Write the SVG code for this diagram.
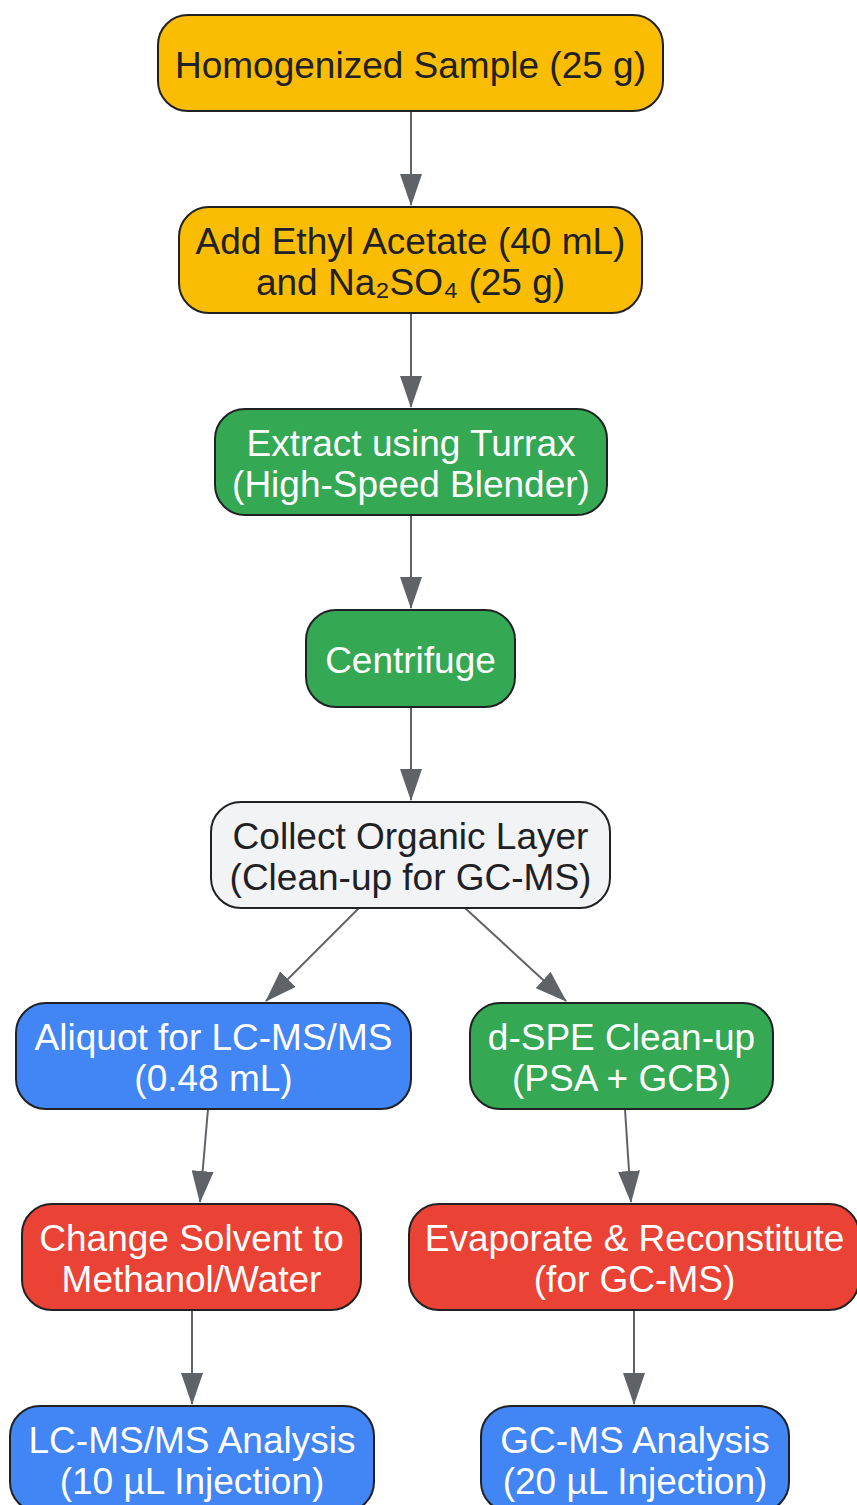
<svg xmlns="http://www.w3.org/2000/svg" width="857" height="1505" viewBox="0 0 857 1505">
<defs>
<style>
.node rect{stroke:#202124;stroke-width:2}
.yellow rect{fill:#FBBC04}
.green rect{fill:#34A853}
.blue rect{fill:#4285F4}
.red rect{fill:#EA4335}
.gray rect{fill:#F1F3F4}
text{font-family:"Liberation Sans",Arial,sans-serif;font-size:37px;text-anchor:middle}
.dark text{fill:#202124}
.light text{fill:#FFFFFF}
.edge{stroke:#5F6368;stroke-width:2;fill:none;marker-end:url(#arr)}
</style>
<marker id="arr" markerUnits="userSpaceOnUse" markerWidth="32" markerHeight="22" refX="31" refY="11" orient="auto">
<path d="M0,0 L32,11 L0,22 z" fill="#5F6368"/>
</marker>
</defs>
<rect width="857" height="1505" fill="#FFFFFF"/>
<g id="connectors">
<line class="edge" x1="411" y1="111" x2="411" y2="205"/>
<line class="edge" x1="411" y1="313" x2="411" y2="407"/>
<line class="edge" x1="411" y1="515" x2="411" y2="608"/>
<line class="edge" x1="411" y1="707" x2="411" y2="800"/>
<line class="edge" x1="359" y1="908" x2="266" y2="1001"/>
<line class="edge" x1="465" y1="908" x2="566" y2="1001"/>
<line class="edge" x1="208" y1="1109" x2="200" y2="1202"/>
<line class="edge" x1="625" y1="1109" x2="631" y2="1202"/>
<line class="edge" x1="192" y1="1310" x2="192" y2="1404"/>
<line class="edge" x1="634" y1="1310" x2="634" y2="1404"/>
</g>
<g id="n1" class="node yellow dark">
<rect x="158" y="15" width="505" height="96" rx="30"/>
<text x="410.5" y="77.5">Homogenized Sample (25 g)</text>
</g>
<g id="n2" class="node yellow dark">
<rect x="179" y="207" width="463" height="106" rx="30"/>
<text x="410.5" y="253.5">Add Ethyl Acetate (40 mL)</text>
<text x="410.5" y="294.5">and Na₂SO₄ (25 g)</text>
</g>
<g id="n3" class="node green light">
<rect x="215" y="409" width="392" height="106" rx="30"/>
<text x="411" y="455.5">Extract using Turrax</text>
<text x="411" y="496.5">(High-Speed Blender)</text>
</g>
<g id="n4" class="node green light">
<rect x="306" y="610" width="209" height="97" rx="30"/>
<text x="410.5" y="672.5">Centrifuge</text>
</g>
<g id="n5" class="node gray dark">
<rect x="211" y="802" width="399" height="106" rx="30"/>
<text x="410.5" y="848.5">Collect Organic Layer</text>
<text x="410.5" y="889.5">(Clean-up for GC-MS)</text>
</g>
<g id="n6" class="node blue light">
<rect x="16" y="1003" width="395" height="106" rx="30"/>
<text x="213.5" y="1049.5">Aliquot for LC-MS/MS</text>
<text x="213.5" y="1090.5">(0.48 mL)</text>
</g>
<g id="n7" class="node green light">
<rect x="470" y="1003" width="303" height="106" rx="30"/>
<text x="621.5" y="1049.5">d-SPE Clean-up</text>
<text x="621.5" y="1090.5">(PSA + GCB)</text>
</g>
<g id="n8" class="node red light">
<rect x="22" y="1204" width="339" height="106" rx="30"/>
<text x="191.5" y="1250.5">Change Solvent to</text>
<text x="191.5" y="1291.5">Methanol/Water</text>
</g>
<g id="n9" class="node red light">
<rect x="409" y="1204" width="450" height="106" rx="30"/>
<text x="634.5" y="1250.5">Evaporate &amp; Reconstitute</text>
<text x="634.5" y="1291.5">(for GC-MS)</text>
</g>
<g id="n10" class="node blue light">
<rect x="10" y="1406" width="364" height="106" rx="30"/>
<text x="192" y="1452.5">LC-MS/MS Analysis</text>
<text x="192" y="1493.5">(10 µL Injection)</text>
</g>
<g id="n11" class="node blue light">
<rect x="481" y="1406" width="308" height="106" rx="30"/>
<text x="635" y="1452.5">GC-MS Analysis</text>
<text x="635" y="1493.5">(20 µL Injection)</text>
</g>
</svg>
